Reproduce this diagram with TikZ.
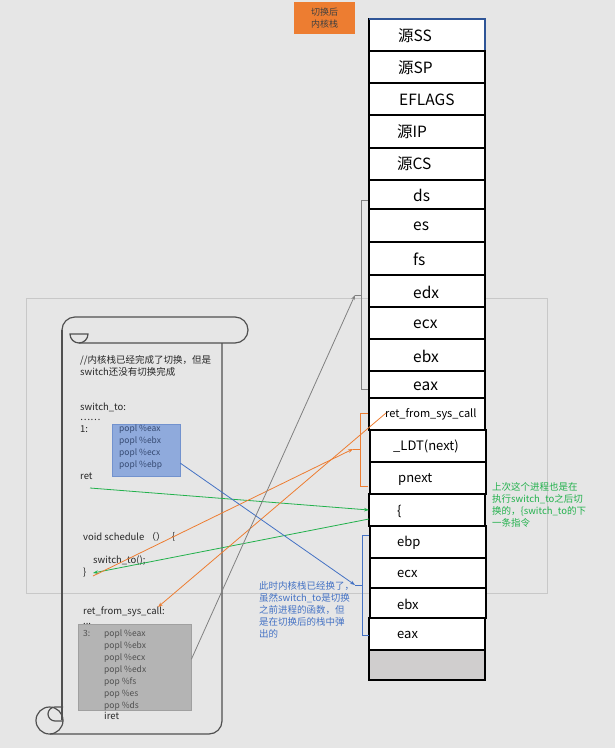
\documentclass[tikz,border=0pt]{standalone}
\usepackage{fontspec}
\setmainfont{Noto Sans CJK SC}
\usetikzlibrary{arrows.meta}
\definecolor{bg}{RGB}{230,230,230}
\definecolor{orng}{RGB}{237,125,49}
\definecolor{grn}{RGB}{34,177,76}
\definecolor{blu}{RGB}{68,114,196}
\definecolor{blubox}{RGB}{143,170,220}
\definecolor{bluedge}{RGB}{114,146,206}
\definecolor{bluetxt}{RGB}{55,75,115}
\definecolor{gbox}{RGB}{180,180,180}
\definecolor{gedge}{RGB}{160,160,160}
\definecolor{gtxt}{RGB}{80,80,80}
\definecolor{framec}{RGB}{200,200,200}
\definecolor{scrollc}{RGB}{80,80,80}
\definecolor{darkblu}{RGB}{47,85,151}
\definecolor{cellgray}{RGB}{208,206,206}
\definecolor{bracegray}{RGB}{128,128,128}
\begin{document}
\begin{tikzpicture}[x=1pt,y=-1pt,
  cell/.style={draw=black,line width=1.1pt,fill=white,minimum width=116pt,inner sep=0pt,outer sep=0pt,anchor=north west},
  bigtxt/.style={anchor=west,inner sep=0pt,font=\fontsize{15.5}{18}\selectfont},
  smtxt/.style={anchor=west,inner sep=0pt,font=\fontsize{13}{15}\selectfont},
  code/.style={anchor=base west,inner sep=0pt,font=\fontsize{9.5}{11.5}\selectfont,text=black!85},
  asmb/.style={anchor=base west,inner sep=0pt,font=\fontsize{8.5}{12}\selectfont,text=bluetxt},
  asmg/.style={anchor=base west,inner sep=0pt,font=\fontsize{8.5}{12}\selectfont,text=gtxt},
  scroll/.style={draw=scrollc,line width=1.2pt},
  conn/.style={line width=0.8pt,-{Stealth[length=5pt,width=3.6pt]}},
  bracel/.style={line width=1pt},
  note/.style={anchor=north west,align=left,inner sep=0pt,font=\fontsize{9.5}{12}\selectfont}]
\useasboundingbox (0,0) rectangle (615,748);
\fill[bg] (0,0) rectangle (615,748);
% outer frame
\draw[framec,line width=0.9pt] (26,298) rectangle (547,593);
% orange label
\node[fill=orng,minimum width=61pt,minimum height=32pt,anchor=north west,inner sep=0pt,align=center,font=\fontsize{9}{12}\selectfont,text=black!75] (lbl) at (294,2) {切换后\\内核栈};
% stack cells
\node[cell,minimum height=32pt] (s1) at (369,19) {};
\draw[darkblu,line width=1.1pt] (s1.north west) -- (s1.north east) -- (s1.south east);
\node[cell,minimum height=32pt] (s2) at (369,51) {};
\node[cell,minimum height=32pt] (s3) at (369,83) {};
\node[cell,minimum height=33pt] (s4) at (369,115) {};
\node[cell,minimum height=32pt] (s5) at (369,148) {};
\node[cell,minimum height=29pt] (s6) at (369,180) {};
\node[cell,minimum height=33pt] (s7) at (369,209) {};
\node[cell,minimum height=33pt] (s8) at (369,242) {};
\node[cell,minimum height=32pt] (s9) at (369,275) {};
\node[cell,minimum height=32pt] (s10) at (369,307) {};
\node[cell,minimum height=32pt] (s11) at (369,339) {};
\node[cell,minimum height=27pt] (s12) at (369,371) {};
\node[cell,minimum height=32pt] (s13) at (369,398) {};
\node[cell,minimum height=32pt] (s14) at (370,430) {};
\node[cell,minimum height=32pt] (s15) at (370,462) {};
\node[cell,minimum height=32pt] (s16) at (369,494) {};
\node[cell,minimum height=32pt] (s17) at (370,526) {};
\node[cell,minimum height=30pt] (s18) at (370,558) {};
\node[cell,minimum height=30pt] (s19) at (370,588) {};
\node[cell,minimum height=32pt] (s20) at (369,618) {};
\node[cell,minimum height=30pt,fill=cellgray] (s21) at (369,650) {};
% stack texts
\node[bigtxt] (t1) at (398,36) {源SS};
\node[bigtxt] (t2) at (398,68) {源SP};
\node[bigtxt] (t3) at (399,100) {EFLAGS};
\node[bigtxt] (t4) at (397,132) {源IP};
\node[bigtxt] (t5) at (397,164) {源CS};
\node[bigtxt] (t6) at (413,195) {ds};
\node[bigtxt] (t7) at (413,226) {es};
\node[bigtxt] (t8) at (413,259) {fs};
\node[bigtxt] (t9) at (413,292) {edx};
\node[bigtxt] (t10) at (413,324) {ecx};
\node[bigtxt] (t11) at (413,356) {ebx};
\node[bigtxt] (t12) at (413,386) {eax};
\node[smtxt,font=\fontsize{11}{13}\selectfont] (t13) at (385,414) {ret\_from\_sys\_call};
\node[smtxt] (t14) at (393,446) {\_LDT(next)};
\node[smtxt] (t15) at (398,479) {pnext};
\node[smtxt] (t16) at (397,511) {\{};
\node[smtxt] (t17) at (397,543) {ebp};
\node[smtxt] (t18) at (397,574) {ecx};
\node[smtxt] (t19) at (397,604) {ebx};
\node[smtxt] (t20) at (397,635) {eax};
% braces
\draw[bracegray,bracel] (368,200) -- (361,200) -- (361,389) -- (368,389);
\draw[bracegray,bracel] (361,295) -- (355,295);
\draw[orng,bracel] (368,413) -- (360,413) -- (360,486) -- (368,486);
\draw[orng,bracel] (360,449) -- (353,449);
\draw[blu,bracel] (369,535) -- (362,535) -- (362,635) -- (369,635);
\draw[blu,bracel] (362,585) -- (355,585);
\coordinate (gbr) at (355,295);
\coordinate (obr) at (353,449);
\coordinate (bbr) at (355,585);
% scroll
\draw[scroll] (62,330) arc[start angle=180,end angle=270,radius=13] -- (235,317)
  arc[start angle=270,end angle=450,radius=13] -- (79,343);
\draw[scroll] (70,334) arc[start angle=180,end angle=0,radius=9] -- cycle;
\draw[scroll] (62,330) -- (62,720);
\draw[scroll] (222,343) -- (222,721) arc[start angle=0,end angle=90,radius=13] -- (50,734);
\draw[scroll] (49.5,720.5) circle[radius=13.5];
\draw[scroll] (63,707) -- (55,707) arc[start angle=270,end angle=90,radius=7] -- (63,721);
% scroll code
\node[code] (c1) at (80,363.5) {//内核栈已经完成了切换，但是};
\node[code] (c2) at (80,375) {switch还没有切换完成};
\node[code] (c3) at (80,410) {switch\_to:};
\node[code] (c4) at (80,420) {……};
\node[code] (c5) at (80,432) {1:};
\node[draw=bluedge,fill=blubox,anchor=north west,minimum width=68pt,minimum height=52pt,inner sep=0pt] (bbox) at (112,424) {};
\node[asmb] (b1) at (119,431.5) {popl \%eax};
\node[asmb] (b2) at (119,443.5) {popl \%ebx};
\node[asmb] (b3) at (119,455.5) {popl \%ecx};
\node[asmb] (b4) at (119,467.5) {popl \%ebp};
\node[code] (c6) at (80,479.5) {ret};
\node[code] (c7) at (83,540.5) {void schedule （）｛};
\node[code] (c8) at (93,563.5) {switch\_to();};
\node[code] (c9) at (83,575.5) {\}};
\node[code] (c10) at (83,614.5) {ret\_from\_sys\_call:};
\node[code] (c11) at (83,624) {...};
\node[draw=gedge,fill=gbox,anchor=north west,minimum width=113pt,minimum height=86pt,inner sep=0pt] (gybox) at (78,624) {};
\node[asmg] (g0) at (83,636.5) {3:};
\node[asmg] (g1) at (104,636.5) {popl \%eax};
\node[asmg] (g2) at (104,648.5) {popl \%ebx};
\node[asmg] (g3) at (104,660.5) {popl \%ecx};
\node[asmg] (g4) at (104,672.5) {popl \%edx};
\node[asmg] (g5) at (104,684) {pop \%fs};
\node[asmg] (g6) at (104,696) {pop \%es};
\node[asmg] (g7) at (104,708) {pop \%ds};
\node[code] (g8) at (104,719.5) {iret};
% notes
\node[note,text=grn] (gnote) at (492,482) {上次这个进程也是在\\执行switch\_to之后切\\换的，\{switch\_to的下\\一条指令};
\node[note,text=blu] (bnote) at (259,581) {此时内核栈已经换了，\\虽然switch\_to是切换\\之前进程的函数，但\\是在切换后的栈中弹\\出的};
% connector ends
\coordinate (gA) at (90,488);
\coordinate (gB) at (93,573);
\coordinate (oA) at (93,576);
\coordinate (oB) at (158,607);
\coordinate (oS) at (386,413);
% connectors
\draw[conn,grn] (gA) -- (s16.west);
\draw[conn,grn] ([yshift=-9pt]s16.west) -- (gB);
\draw[conn,orng] (oA) -- (obr);
\draw[conn,orng] (oS) -- (oB);
\draw[conn,blu] ([yshift=-13pt]bbox.east) -- (bbr);
\draw[conn,bracegray] ([yshift=8pt]gybox.east) -- (gbr);
\end{tikzpicture}
\end{document}
